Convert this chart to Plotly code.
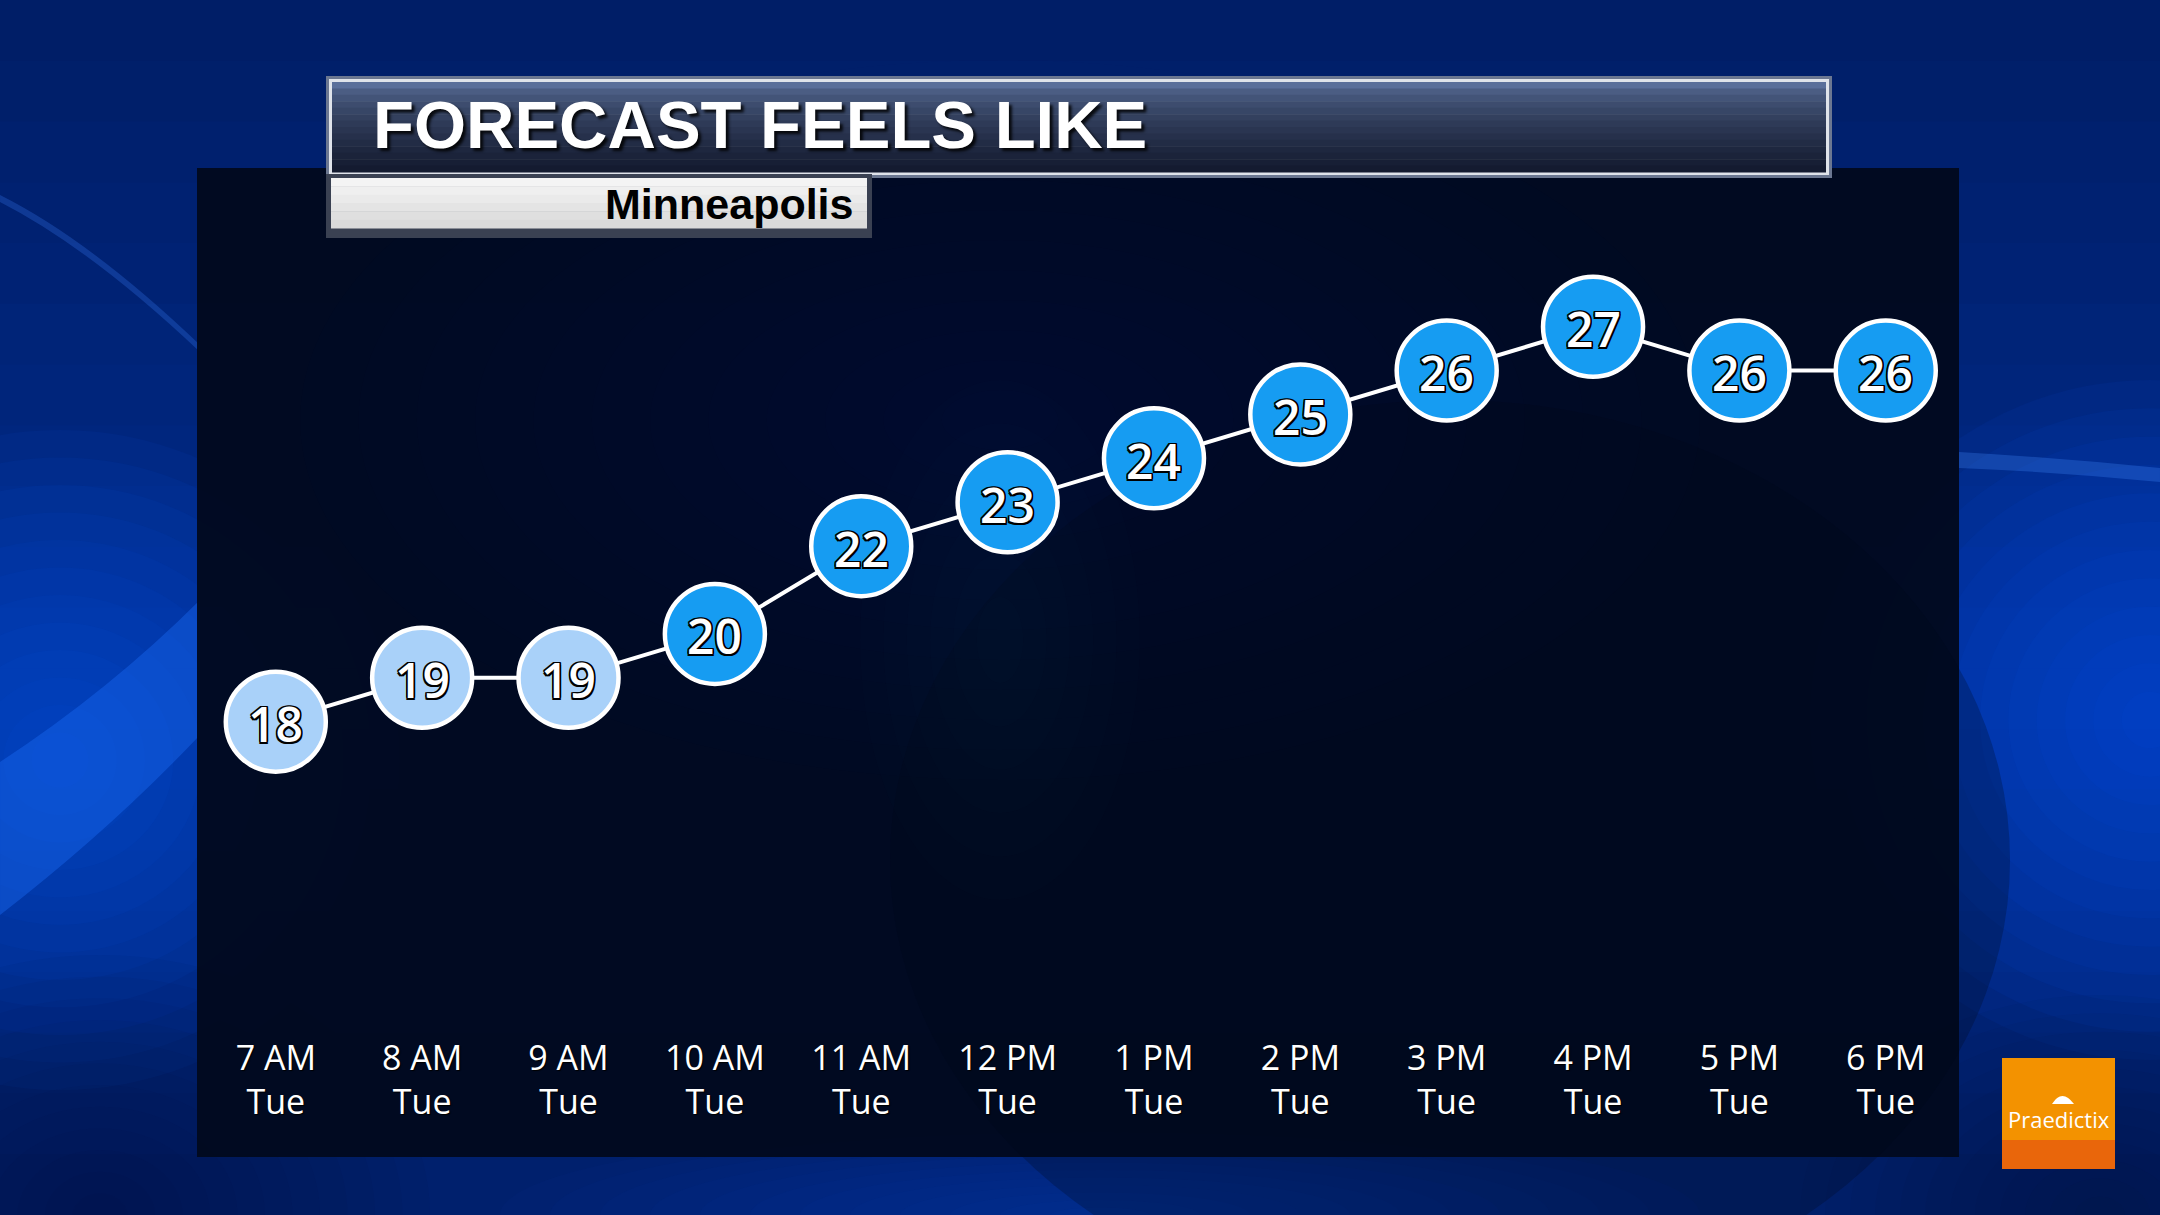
import plotly.graph_objects as go

# ---------------- data ----------------
hours = ["7 AM", "8 AM", "9 AM", "10 AM", "11 AM", "12 PM",
         "1 PM", "2 PM", "3 PM", "4 PM", "5 PM", "6 PM"]
days = ["Tue", "Tue", "Tue", "Tue", "Tue", "Tue",
        "Tue", "Tue", "Tue", "Tue", "Tue", "Tue"]
feels_like = [18, 19, 19, 20, 22, 23, 24, 25, 26, 27, 26, 26]
title_text = "FORECAST FEELS LIKE"
location = "Minneapolis"

# ---------------- layout geometry (pixels) ----------------
W, H = 2160, 1215
L, R, T, B = 197, 1959, 168, 1035


def fx(p):
    return (p - L) / (R - L)


def fy(p):
    return (B - p) / (B - T)


def rect(x0, y0, x1, y1, fill, line_color=None, line_width=0, layer="below"):
    return dict(type="rect", xref="paper", yref="paper",
                x0=fx(x0), x1=fx(x1), y0=fy(y1), y1=fy(y0),
                fillcolor=fill, layer=layer,
                line=dict(width=line_width, color=line_color or "rgba(0,0,0,0)"))


def ellipse(cx, cy, rx, ry, fill, layer="below"):
    return dict(type="circle", xref="paper", yref="paper",
                x0=fx(cx - rx), x1=fx(cx + rx), y0=fy(cy + ry), y1=fy(cy - ry),
                fillcolor=fill, layer=layer, line=dict(width=0))


def glow(cx, cy, rx, ry, rgb, alpha, n=12):
    out = []
    for i in range(n):
        s = 1 - i / n
        out.append(ellipse(cx, cy, rx * s, ry * s, f"rgba({rgb},{alpha / n:.4f})"))
    return out


def path(cmds, fill, layer="below"):
    parts = []
    for c in cmds:
        op = c[0]
        pts = c[1:]
        s = op + " " + " ".join(f"{fx(pts[i]):.5f},{fy(pts[i+1]):.5f}" for i in range(0, len(pts), 2))
        parts.append(s)
    return dict(type="path", xref="paper", yref="paper", path=" ".join(parts) + " Z",
                fillcolor=fill, layer=layer, line=dict(width=0))


def mix(c1, c2, t):
    a = [int(c1[i:i + 2], 16) for i in (1, 3, 5)]
    b = [int(c2[i:i + 2], 16) for i in (1, 3, 5)]
    return "#" + "".join(f"{round(a[k] + (b[k] - a[k]) * t):02x}" for k in range(3))


shapes = []
# vertical base gradient of the backdrop
for i in range(20):
    t = i / 19
    col = mix("#001c62", "#002a8a", 1 - abs(t - 0.55) * 1.6 if abs(t - 0.55) < 0.62 else 0)
    shapes.append(rect(0, H * i / 20, W, H * (i + 1) / 20 + 1, col))

# left glows / swoosh
shapes += glow(60, 760, 340, 330, "12,90,235", 0.8)
shapes.append(path([("M", 0, 762), ("Q", 110, 690, 200, 600), ("L", 200, 735),
                    ("Q", 110, 830, 0, 915)], "rgba(30,110,250,0.38)"))
shapes.append(path([("M", 0, 195), ("Q", 90, 240, 200, 345), ("L", 200, 352),
                    ("Q", 90, 248, 0, 202)], "rgba(60,130,255,0.25)"))
shapes += glow(100, 1215, 330, 260, "0,12,50", 0.6)
# right glows
shapes += glow(2150, 720, 340, 340, "12,85,235", 0.85)
shapes.append(path([("M", 1959, 452), ("Q", 2060, 458, 2160, 468), ("L", 2160, 482),
                    ("Q", 2060, 472, 1959, 468)], "rgba(70,140,255,0.28)"))
shapes += glow(2100, 1215, 300, 220, "0,12,50", 0.5)
# bottom centre glow
shapes += glow(1100, 1215, 600, 90, "20,80,210", 0.45)

# main dark panel
shapes.append(rect(L, T, R, 1157, "rgba(1,9,30,0.96)"))
shapes += glow(1000, 420, 700, 360, "20,50,110", 0.18)
shapes.append(ellipse(1450, 860, 560, 460, "rgba(0,8,25,0.25)"))
shapes += glow(1000, 640, 140, 260, "0,100,110", 0.12, n=6)

# title bar
shapes.append(rect(326, 76, 1832, 178, "#6b7791"))
shapes.append(rect(329, 79, 1829, 175, "#dfe3ea"))
n_bands = 14
y_top, y_bot = 82, 172
for i in range(n_bands):
    t = (i / (n_bands - 1)) ** 0.6
    col = mix("#5a6f9a", "#141b30", t)
    ya = y_top + (y_bot - y_top) * i / n_bands
    yb = y_top + (y_bot - y_top) * (i + 1) / n_bands
    shapes.append(rect(332, ya, 1826, yb + 0.5, col))

# location tab
shapes.append(rect(326, 174, 872, 238, "#3a4152"))
for i in range(6):
    col = mix("#f4f4f4", "#dadada", i / 5)
    ya = 178 + 50 * i / 6
    yb = 178 + 50 * (i + 1) / 6
    shapes.append(rect(331, ya, 867, yb + 0.5, col))

# logo
shapes.append(rect(2002, 1058, 2115, 1140, "#f39200", layer="above"))
shapes.append(rect(2002, 1140, 2115, 1169, "#e9660b", layer="above"))
shapes.append(path([("M", 2052, 1104), ("Q", 2062, 1088, 2074, 1104)], "#ffffff", layer="above"))

# ---------------- traces ----------------
colors = ["#a9d1f9" if v < 20 else "#169cf2" for v in feels_like]
x = list(range(len(hours)))
tick_text = [f"{h}<br>{d}" for h, d in zip(hours, days)]

outline = ("-1.5px -1.5px 0 #000, 1.5px -1.5px 0 #000, -1.5px 1.5px 0 #000, "
           "1.5px 1.5px 0 #000, 0 1.5px 0 #000, 0 -1.5px 0 #000, 1.5px 0 0 #000, -1.5px 0 0 #000")

fig = go.Figure()
fig.add_trace(go.Scatter(
    x=x, y=feels_like, mode="lines+markers",
    line=dict(color="#ffffff", width=4),
    marker=dict(size=100, color=colors, line=dict(color="#ffffff", width=4.5)),
    hoverinfo="skip", showlegend=False, cliponaxis=False,
))

value_labels = [
    dict(x=xi, y=v, xref="x", yref="y", text=str(v), showarrow=False, yshift=-2,
         xanchor="center", yanchor="middle",
         font=dict(family="Open Sans, Noto Sans, sans-serif", size=48, color="#ffffff",
                   weight=600, shadow=outline))
    for xi, v in zip(x, feels_like)
]

tick_font = dict(family="Open Sans, Noto Sans, sans-serif",
                 size=34, color="#ffffff", shadow="1px 1px 1px #000")
x_range = [(L - 275.8) / 146.36, (R - 275.8) / 146.36]
y_per = 43.89
y_range = [18 - (B - 721.7) / y_per, 18 + (721.7 - T) / y_per]

fig.update_layout(
    width=W, height=H,
    margin=dict(l=L, r=W - R, t=T, b=H - B, pad=0),
    paper_bgcolor="#01236f", plot_bgcolor="rgba(0,0,0,0)",
    shapes=shapes,
    xaxis=dict(range=x_range, tickvals=x, ticktext=tick_text, showgrid=False, zeroline=False,
               showline=False, ticks="", tickfont=tick_font, ticklabelstandoff=0,
               fixedrange=True),
    yaxis=dict(range=y_range, visible=False, fixedrange=True),
    annotations=value_labels + [
        dict(text=title_text, xref="paper", yref="paper", x=fx(371), y=fy(124),
             xanchor="left", yanchor="middle", showarrow=False,
             font=dict(family="Liberation Sans, Arial, sans-serif", size=67, color="#ffffff",
                       weight="bold", shadow="3px 3px 3px rgba(0,0,0,0.85)")),
        dict(text=location, xref="paper", yref="paper", x=fx(855), y=fy(204),
             xanchor="right", yanchor="middle", showarrow=False,
             font=dict(family="Liberation Sans, Arial, sans-serif", size=43, color="#000000",
                       weight="bold")),
        dict(text="Praedictix", xref="paper", yref="paper", x=fx(2059), y=fy(1119),
             xanchor="center", yanchor="middle", showarrow=False,
             font=dict(family="Open Sans, Noto Sans, sans-serif", size=22, color="#ffffff")),
    ],
)

fig.write_html("out.html", config={"displayModeBar": False},
               post_script="document.body.style.margin='0';document.body.style.padding='0';"
                           "document.body.style.overflow='hidden';")
